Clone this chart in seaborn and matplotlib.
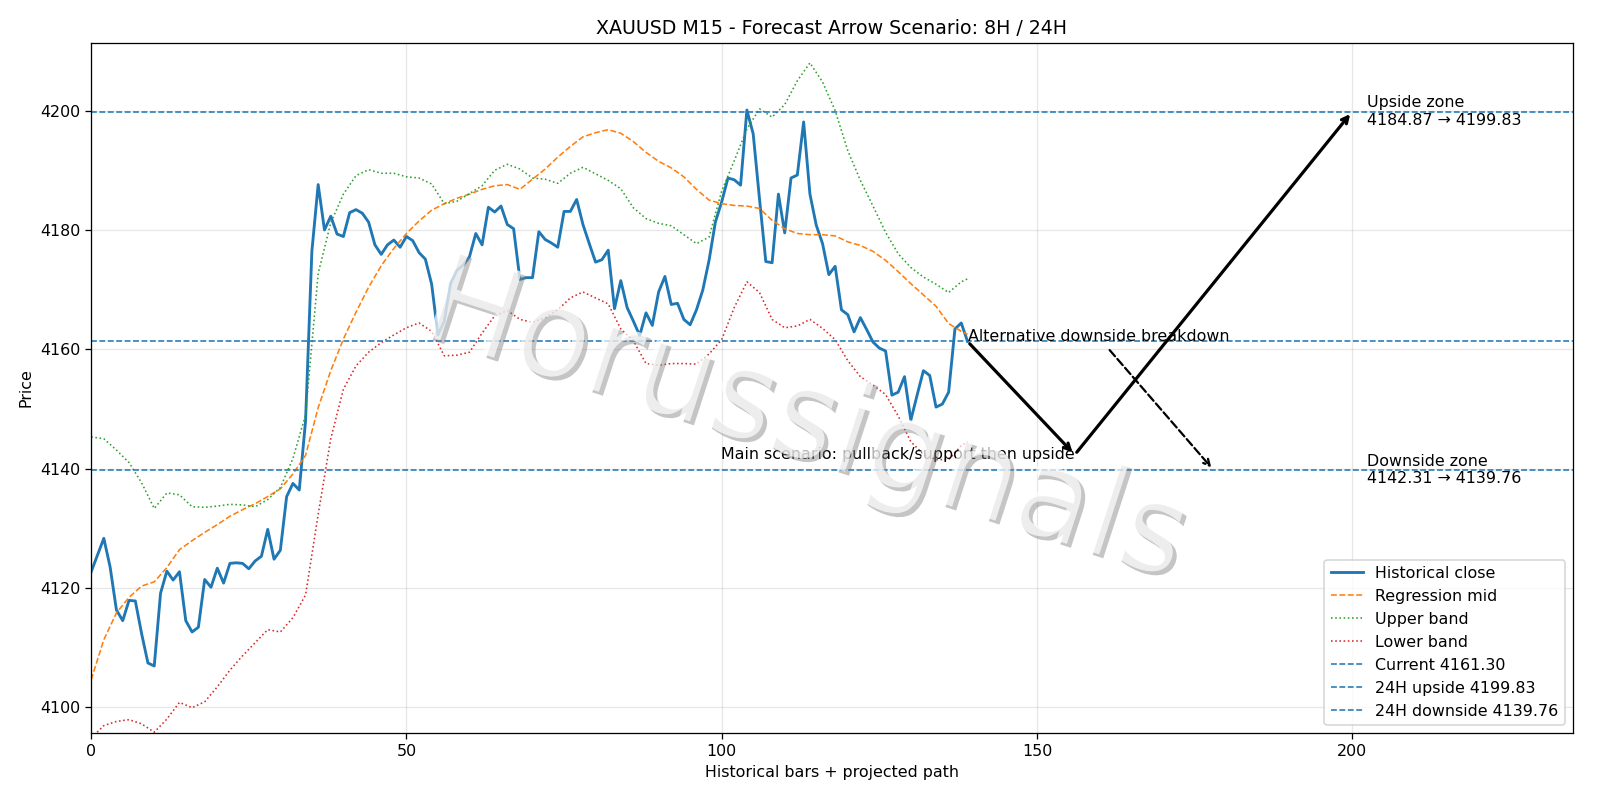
import numpy as np
import pandas as pd
import matplotlib
matplotlib.use('Agg')
import matplotlib.pyplot as plt
import matplotlib.patheffects as pe
import seaborn as sns

# historical close, one value per M15 bar (0..139)
close = [
    4122.7, 4125.5, 4128.3, 4123.5, 4116.3, 4114.5, 4117.9, 4117.8, 4112.3, 4107.4,
    4106.9, 4119.1, 4122.8, 4121.3, 4122.7, 4114.5, 4112.6, 4113.4, 4121.4, 4120.1,
    4123.3, 4120.8, 4124.1, 4124.2, 4124.1, 4123.2, 4124.5, 4125.3, 4129.8, 4124.8,
    4126.3, 4135.3, 4137.5, 4136.4, 4148.0, 4176.4, 4187.6, 4180.0, 4182.3, 4179.3,
    4178.9, 4182.9, 4183.4, 4182.8, 4181.3, 4177.5, 4175.9, 4177.5, 4178.3, 4177.1,
    4178.9, 4178.2, 4176.2, 4175.1, 4170.9, 4162.4, 4164.7, 4171.0, 4173.2, 4174.1,
    4175.5, 4179.4, 4177.5, 4183.8, 4183.0, 4184.0, 4180.9, 4180.2, 4171.7, 4172.0,
    4172.0, 4179.7, 4178.4, 4177.8, 4177.1, 4183.1, 4183.1, 4185.1, 4180.9, 4177.7,
    4174.6, 4175.0, 4176.6, 4166.8, 4171.5, 4167.0, 4164.7, 4162.3, 4166.1, 4164.0,
    4169.6, 4172.2, 4167.5, 4167.7, 4165.0, 4164.1, 4166.6, 4169.9, 4174.9, 4181.3,
    4184.7, 4188.7, 4188.4, 4187.5, 4200.1, 4196.1, 4185.2, 4174.7, 4174.5, 4186.0,
    4179.5, 4188.7, 4189.2, 4198.1, 4186.0, 4180.8, 4177.7, 4172.5, 4173.9, 4166.6,
    4165.8, 4162.9, 4165.3, 4163.3, 4161.2, 4160.2, 4159.7, 4152.3, 4152.8, 4155.4,
    4148.1, 4152.3, 4156.4, 4155.6, 4150.3, 4150.8, 4152.8, 4163.4, 4164.4, 4161.3,
]

# regression channel, read every second bar
band_x = list(range(0, 140, 2)) + [139]
reg_mid = [
    4104.6, 4111.3, 4115.8, 4118.4, 4120.3, 4121.0, 4123.4, 4126.4, 4127.9, 4129.3,
    4130.6, 4132.0, 4133.1, 4134.1, 4135.3, 4136.6, 4139.1, 4142.2, 4150.2, 4156.4,
    4161.7, 4166.2, 4170.4, 4174.0, 4176.9, 4179.4, 4181.5, 4183.3, 4184.4, 4185.3,
    4186.0, 4186.8, 4187.4, 4187.6, 4186.8, 4188.5, 4190.2, 4192.2, 4194.0, 4195.6,
    4196.3, 4196.8, 4196.2, 4194.8, 4193.0, 4191.5, 4190.4, 4188.9, 4186.8, 4185.0,
    4184.4, 4184.1, 4184.0, 4183.6, 4181.6, 4180.2, 4179.4, 4179.2, 4179.2, 4179.0,
    4178.0, 4177.4, 4176.4, 4174.9, 4173.0, 4171.0, 4169.1, 4167.2, 4164.3, 4163.0,
    4162.5,
]
upper_band = [
    4145.3, 4145.0, 4143.1, 4141.0, 4137.6, 4133.3, 4135.9, 4135.6, 4133.6, 4133.5,
    4133.7, 4134.0, 4133.9, 4133.6, 4134.8, 4136.8, 4141.7, 4149.0, 4172.7, 4181.2,
    4186.0, 4189.1, 4190.1, 4189.5, 4189.5, 4188.9, 4188.7, 4187.7, 4184.4, 4184.8,
    4186.1, 4187.4, 4190.0, 4191.0, 4190.2, 4188.7, 4188.5, 4187.8, 4189.5, 4190.5,
    4189.4, 4188.3, 4186.9, 4183.7, 4181.9, 4181.1, 4180.7, 4179.2, 4177.7, 4178.8,
    4186.5, 4191.6, 4196.9, 4200.3, 4198.9, 4201.0, 4205.0, 4208.0, 4204.8, 4200.0,
    4193.3, 4188.3, 4184.0, 4179.6, 4176.0, 4173.7, 4172.1, 4170.9, 4169.5, 4171.3,
    4171.8,
]
lower_band = [
    4094.8, 4096.9, 4097.6, 4097.9, 4097.2, 4095.8, 4098.0, 4100.8, 4099.9, 4100.9,
    4103.4, 4106.2, 4108.6, 4110.8, 4113.0, 4112.6, 4115.0, 4118.8, 4132.3, 4145.0,
    4153.3, 4157.2, 4159.5, 4161.1, 4162.4, 4163.6, 4164.4, 4163.0, 4158.9, 4159.0,
    4159.5, 4162.7, 4165.6, 4166.5, 4165.0, 4164.5, 4165.3, 4166.6, 4168.6, 4169.6,
    4168.6, 4167.6, 4163.4, 4161.4, 4157.6, 4157.3, 4157.6, 4157.6, 4157.5, 4159.2,
    4161.6, 4167.0, 4171.3, 4169.5, 4165.0, 4163.6, 4163.9, 4165.0, 4163.5, 4161.6,
    4158.1, 4155.4, 4154.0, 4152.4, 4148.8, 4144.5, 4142.4, 4141.5, 4141.5, 4143.8,
    4144.5,
]

# levels and scenario points
current_price = 4161.30
up_24h = 4199.83
down_24h = 4139.76
up_zone = (4184.87, 4199.83)
down_zone = (4142.31, 4139.76)
pullback_bar = 156
target_bar = 200
alt_bar = 178
zone_label_bar = 202.3


def main():
    hist_df = pd.DataFrame({'bar': range(len(close)), 'close': close})
    band_df = pd.DataFrame({'bar': band_x, 'mid': reg_mid,
                            'upper': upper_band, 'lower': lower_band})

    fig, ax = plt.subplots(figsize=(14, 7), dpi=800 / 7)
    fig.subplots_adjust(left=0.057, right=0.983, bottom=0.084, top=0.946)

    sns.lineplot(data=hist_df, x='bar', y='close', ax=ax, color='C0',
                 linewidth=1.8, label='Historical close')
    sns.lineplot(data=band_df, x='bar', y='mid', ax=ax, color='C1',
                 linewidth=1.0, linestyle='--', label='Regression mid')
    sns.lineplot(data=band_df, x='bar', y='upper', ax=ax, color='C2',
                 linewidth=1.0, linestyle=':', label='Upper band')
    sns.lineplot(data=band_df, x='bar', y='lower', ax=ax, color='C3',
                 linewidth=1.0, linestyle=':', label='Lower band')

    ax.axhline(current_price, color='C0', linestyle='--', linewidth=1.0,
               label=f'Current {current_price:.2f}')
    ax.axhline(up_24h, color='C0', linestyle='--', linewidth=1.0,
               label=f'24H upside {up_24h:.2f}')
    ax.axhline(down_24h, color='C0', linestyle='--', linewidth=1.0,
               label=f'24H downside {down_24h:.2f}')

    last_bar = len(close) - 1
    # main scenario: pullback then upside
    ax.annotate('', xy=(pullback_bar, down_zone[0]), xytext=(last_bar, current_price),
                arrowprops=dict(arrowstyle='->', color='black', lw=2))
    ax.annotate('', xy=(target_bar, up_24h), xytext=(pullback_bar, down_zone[0]),
                arrowprops=dict(arrowstyle='->', color='black', lw=2))
    ax.text(pullback_bar, down_zone[0], 'Main scenario: pullback/support then upside',
            ha='right', va='center')
    # alternative breakdown
    ax.annotate('Alternative downside breakdown', xy=(alt_bar, down_24h),
                xytext=(last_bar, current_price),
                arrowprops=dict(arrowstyle='->', color='black', lw=1.4, linestyle='--'))

    ax.text(zone_label_bar, up_24h,
            f'Upside zone\n{up_zone[0]:.2f} \u2192 {up_zone[1]:.2f}', va='center')
    ax.text(zone_label_bar, down_24h,
            f'Downside zone\n{down_zone[0]:.2f} \u2192 {down_zone[1]:.2f}', va='center')

    ax.set_xlim(0, 235)
    ax.set_ylim(4095.7, 4211.3)
    ax.set_title('XAUUSD M15 - Forecast Arrow Scenario: 8H / 24H')
    ax.set_xlabel('Historical bars + projected path')
    ax.set_ylabel('Price')
    ax.grid(True, alpha=0.3)
    ax.legend(loc='lower right')

    # watermark
    fig.text(0.503, 0.472, 'Horussignals', fontsize=78, color='white', alpha=0.7,
             rotation=-18, ha='center', va='center', zorder=10,
             path_effects=[pe.withSimplePatchShadow(offset=(2.5, -2.5), shadow_rgbFace='gray',
                                                    alpha=0.45)])

    fig.savefig('out.png', dpi=800 / 7)
    plt.close(fig)


if __name__ == '__main__':
    main()
